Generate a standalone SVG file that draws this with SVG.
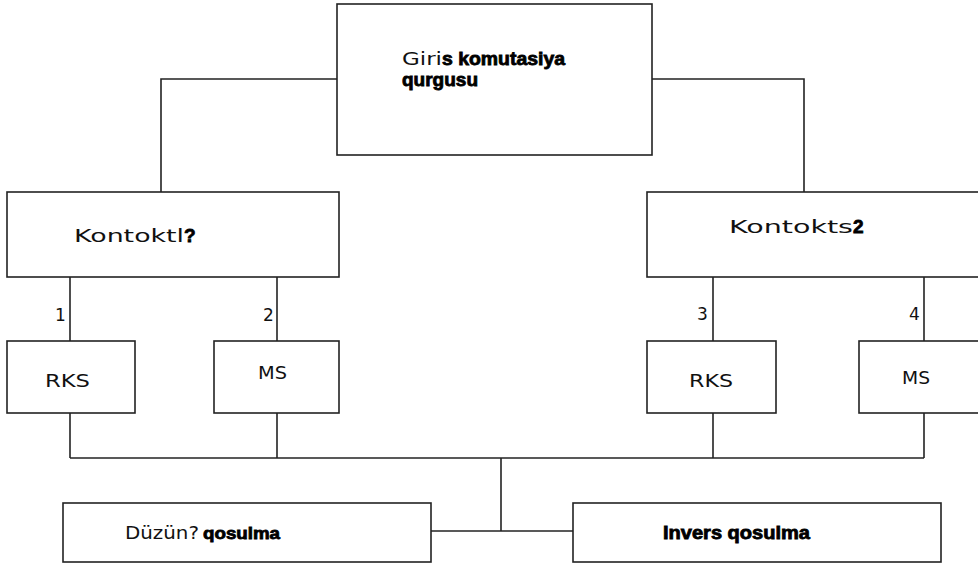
<svg xmlns="http://www.w3.org/2000/svg" width="978" height="565" viewBox="0 0 978 565">
<style>
.box{fill:#fff;stroke:#222;stroke-width:1.6}
.ln{fill:none;stroke:#222;stroke-width:1.6}
.t{font-family:"DejaVu Sans","Liberation Sans",sans-serif;font-size:17px;fill:#111}
.b{font-family:"Liberation Sans Narrow","Liberation Sans",sans-serif;font-weight:bold;fill:#000;stroke:#000;stroke-width:0.8}
</style>
<rect width="978" height="565" fill="#fff"/>
<g id="connectors">
<polyline class="ln" points="337,79 161,79 161,192"/>
<polyline class="ln" points="652,79 804,79 804,192"/>
<line class="ln" x1="70" y1="277" x2="70" y2="341"/>
<line class="ln" x1="277" y1="277" x2="277" y2="341"/>
<line class="ln" x1="713" y1="277" x2="713" y2="341"/>
<line class="ln" x1="924" y1="277" x2="924" y2="341"/>
<line class="ln" x1="70" y1="413" x2="70" y2="458"/>
<line class="ln" x1="277" y1="413" x2="277" y2="458"/>
<line class="ln" x1="713" y1="413" x2="713" y2="458"/>
<line class="ln" x1="924" y1="413" x2="924" y2="458"/>
<line class="ln" x1="70" y1="458" x2="924" y2="458"/>
<line class="ln" x1="501" y1="458" x2="501" y2="531"/>
<line class="ln" x1="431" y1="531" x2="573" y2="531"/>
<text class="t" x="55" y="321">1</text>
<text class="t" x="263" y="321">2</text>
<text class="t" x="697" y="320">3</text>
<text class="t" x="909" y="320">4</text>
</g>
<g id="giris">
<rect class="box" x="337" y="4" width="315" height="151"/>
<text x="402" y="65"><tspan class="t" font-size="19" textLength="40" lengthAdjust="spacingAndGlyphs">Giri</tspan><tspan class="b" font-size="18" textLength="123" lengthAdjust="spacingAndGlyphs">s komutasiya</tspan></text>
<text class="b" x="402" y="86" font-size="18" textLength="76" lengthAdjust="spacingAndGlyphs">qurgusu</text>
</g>
<g id="kontoktl">
<rect class="box" x="7" y="192" width="332" height="85"/>
<text x="74" y="242"><tspan class="t" font-size="19" textLength="110" lengthAdjust="spacingAndGlyphs">Kontoktl</tspan><tspan class="b" font-size="19">?</tspan></text>
</g>
<g id="kontokts">
<rect class="box" x="647" y="192" width="340" height="85"/>
<text x="729" y="233"><tspan class="t" font-size="19" textLength="124" lengthAdjust="spacingAndGlyphs">Kontokts</tspan><tspan class="b" font-size="19">2</tspan></text>
</g>
<g id="rks1">
<rect class="box" x="7" y="341" width="128" height="72"/>
<text class="t" x="45" y="387" textLength="45" lengthAdjust="spacingAndGlyphs">RKS</text>
</g>
<g id="ms1">
<rect class="box" x="214" y="341" width="125" height="72"/>
<text class="t" x="258" y="379" textLength="29" lengthAdjust="spacingAndGlyphs">MS</text>
</g>
<g id="rks2">
<rect class="box" x="647" y="341" width="129" height="72"/>
<text class="t" x="689" y="387" textLength="44" lengthAdjust="spacingAndGlyphs">RKS</text>
</g>
<g id="ms2">
<rect class="box" x="859" y="341" width="130" height="72"/>
<text class="t" x="902" y="384" textLength="28" lengthAdjust="spacingAndGlyphs">MS</text>
</g>
<g id="duzun">
<rect class="box" x="63" y="503" width="368" height="59"/>
<text x="125" y="539"><tspan class="t" font-size="19" textLength="74" lengthAdjust="spacingAndGlyphs">Düzün?</tspan><tspan class="b" font-size="17" dx="4" textLength="77" lengthAdjust="spacingAndGlyphs">qosulma</tspan></text>
</g>
<g id="invers">
<rect class="box" x="573" y="503" width="368" height="59"/>
<text class="b" x="663" y="539" font-size="18" textLength="147" lengthAdjust="spacingAndGlyphs">Invers qosulma</text>
</g>
</svg>
